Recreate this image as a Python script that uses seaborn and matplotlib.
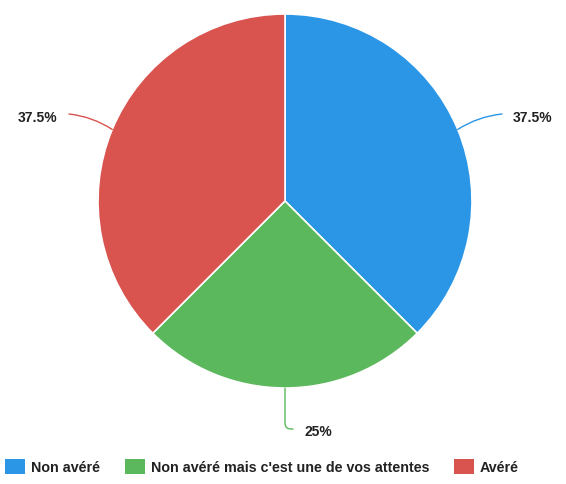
import matplotlib
matplotlib.use("Agg")
import matplotlib.pyplot as plt
import seaborn as sns
import numpy as np
from matplotlib.patches import Patch

categories = ["Non avéré", "Non avéré mais c'est une de vos attentes", "Avéré"]
values = [37.5, 25, 37.5]
labels = ["37.5%", "25%", "37.5%"]
colors = ["#2B96E6", "#5CB85C", "#D9534F"]

sns.set_theme(style="white")
plt.rcParams['font.family'] = ['Liberation Sans', 'DejaVu Sans']

W, H = 566, 484
fig = plt.figure(figsize=(W / 100, H / 100), dpi=100)
ax = fig.add_axes([0, 0, 1, 1])

cx, cy, r = 285, H - 201, 187
wedges, _ = ax.pie(values, colors=colors, startangle=90, counterclock=False,
                   center=(cx, cy), radius=r,
                   wedgeprops=dict(edgecolor='white', linewidth=1.2), frame=True)
ax.set_xlim(0, W)
ax.set_ylim(0, H)
ax.set_aspect('equal')
ax.axis('off')

text_pos = [(513, H - 118, 'left'), (318, H - 432, 'center'), (57, H - 118, 'right')]
line_end = [(502, H - 114), (293, H - 429), (69, H - 114)]
conns = ["arc3,rad=0.12", "angle,angleA=0,angleB=90,rad=6", "arc3,rad=-0.12"]
for w, lab, tp, le, cs, col in zip(wedges, labels, text_pos, line_end, conns, colors):
    ang = np.deg2rad((w.theta1 + w.theta2) / 2)
    px, py = cx + r * np.cos(ang), cy + r * np.sin(ang)
    ax.annotate("", xy=(px, py), xytext=le,
                arrowprops=dict(arrowstyle='-', color=col, lw=1,
                                shrinkA=0, shrinkB=0,
                                connectionstyle=cs))
    ax.text(tp[0], tp[1], lab, ha=tp[2], va='center', fontsize=10,
            fontweight='bold', color='#222222')

handles = [Patch(facecolor=c, edgecolor='none') for c in colors]
fig.legend(handles, categories, loc='center left', bbox_to_anchor=(5 / W, (H - 467) / H),
           ncol=3, frameon=False, handlelength=1.4, handleheight=1.2,
           handletextpad=0.42, columnspacing=1.75, borderpad=0, borderaxespad=0,
           prop=dict(size=10.25, weight='bold'), labelcolor='#222222')

fig.savefig("out.png", dpi=100)
